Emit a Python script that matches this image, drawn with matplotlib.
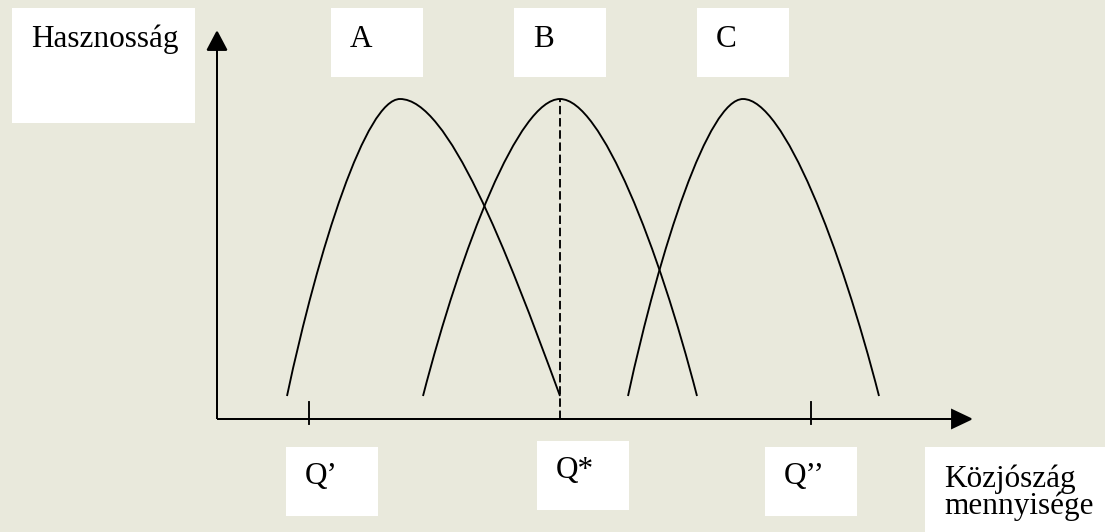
import matplotlib
matplotlib.use('Agg')
import matplotlib.pyplot as plt
from matplotlib.path import Path
from matplotlib.patches import PathPatch, Rectangle

# utility curves A, B, C (quantity on x, utility on y; origin = axis corner)
curve_names = ['A', 'B', 'C']
left_foot = [70, 206, 411]
peak_q = [183, 343, 526]
right_foot = [343, 480, 662]
foot_u = [23, 23, 23]
peak_u = [320, 320, 320]
# how far out the lower control point of each right half sits (A is straighter)
right_ctrl = [0.66, 0.72, 0.72]

# marked quantities on the x axis
q_ticks = [92, 343, 594]
q_labels = ["Q\u2019", "Q*", "Q\u2019\u2019"]

y_label = "Hasznosság"
x_label = ["Közjószág", "mennyisége"]

bg = '#e9e9dc'

fig = plt.figure(figsize=(11.05, 5.32), dpi=100)
fig.patch.set_facecolor(bg)
ax = fig.add_axes([0, 0, 1, 1])
ax.set_xlim(-217, 888)
ax.set_ylim(-113, 419)
ax.axis('off')
ax.set_facecolor(bg)

lw = 1.35

def hump(ql, qp, qr, uf, up, cr):
    # arch made of two cubic bezier halves meeting at the peak
    h = up - uf
    wl = qp - ql
    wr = qr - qp
    a, c, e = 0.3, 0.72, 0.5
    verts = [(ql, uf),
             (qp - c * wl, up - e * h), (qp - a * wl, up), (qp, up),
             (qp + a * wr, up), (qp + cr * wr, up - e * h), (qr, uf)]
    codes = [Path.MOVETO] + [Path.CURVE4] * 6
    return Path(verts, codes)

for i in range(len(curve_names)):
    p = hump(left_foot[i], peak_q[i], right_foot[i], foot_u[i], peak_u[i],
             right_ctrl[i])
    ax.add_patch(PathPatch(p, fc='none', ec='black', lw=lw))

# axes with arrow heads
ax.arrow(0, 0, 0, 387, head_width=19, head_length=18, width=0,
         length_includes_head=True, fc='black', ec='black', lw=lw)
ax.arrow(0, 0, 754, 0, head_width=18, head_length=19, width=0,
         length_includes_head=True, fc='black', ec='black', lw=lw)

# equilibrium quantity: dashed line under B's peak
ax.plot([q_ticks[1], q_ticks[1]], [0, peak_u[1]], color='black', lw=lw,
        linestyle=(0, (4.5, 2)))

# ticks at Q' and Q''
for q in (q_ticks[0], q_ticks[2]):
    ax.plot([q, q], [-5, 17], color='black', lw=lw)

font = dict(family='Liberation Serif', fontsize=22.5, color='black', va='baseline')

def box(x0, y0, x1, y1):
    # pixel box from the top-left corner of the picture
    ax.add_patch(Rectangle((x0 - 217, 419 - y1), x1 - x0, y1 - y0,
                           fc='white', ec='none', zorder=3))

box(12, 8, 195, 123)
ax.text(31 - 217, 419 - 47, y_label, zorder=4, **font)

name_boxes = [(331, 423), (514, 606), (697, 789)]
for (x0, x1), name in zip(name_boxes, curve_names):
    box(x0, 8, x1, 77)
    ax.text(x0 + 19 - 217, 419 - 47, name, zorder=4, **font)

q_boxes = [(286, 378, 447, 516), (537, 629, 441, 510), (765, 857, 447, 516)]
for (x0, x1, y0, y1), lab in zip(q_boxes, q_labels):
    box(x0, y0, x1, y1)
    ax.text(x0 + 19 - 217, 419 - (y0 + 37), lab, zorder=4, **font)

box(925, 447, 1105, 532)
ax.text(944 - 217, 419 - 487, x_label[0], zorder=4, **font)
ax.text(944 - 217, 419 - 514, x_label[1], zorder=4, **font)

fig.savefig('out.png', dpi=100, facecolor=bg)
